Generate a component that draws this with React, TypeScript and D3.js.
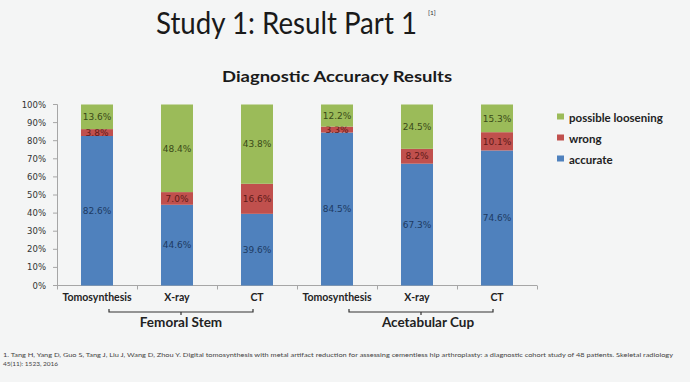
import React from "react";
import * as d3 from "d3";

const categories = ["Tomosynthesis", "X-ray", "CT", "Tomosynthesis", "X-ray", "CT"];
const groups = ["Femoral Stem", "Acetabular Cup"];
const seriesNames = ["accurate", "wrong", "possible loosening"];
const accurate = [82.6, 44.6, 39.6, 84.5, 67.3, 74.6];
const wrong = [3.8, 7.0, 16.6, 3.3, 8.2, 10.1];
const loosening = [13.6, 48.4, 43.8, 12.2, 24.5, 15.3];
const yTicks = [0, 10, 20, 30, 40, 50, 60, 70, 80, 90, 100];

const W = 690;
const H = 382;
const colors = ["#4F81BD", "#C0504D", "#9BBB59"];
const labelColors = ["#1d3a62", "#5e1a18", "#3a4a18"];

export default function App() {
  const x = d3.scaleBand<number>().domain(d3.range(categories.length)).range([57, 537]).paddingInner(0).paddingOuter(0);
  const y = d3.scaleLinear().domain([0, 100]).range([285.5, 104.5]);
  const rows = categories.map((c, i) => ({ i, accurate: accurate[i], wrong: wrong[i], loosening: loosening[i] }));
  const stack = d3.stack<any>().keys(["accurate", "wrong", "loosening"])(rows);
  const bw = x.bandwidth() * 0.4;
  const font = "Lato, 'Open Sans', sans-serif";
  const dfont = "'DejaVu Sans', Verdana, sans-serif";

  const groupSpans = [
    { name: groups[0], start: 0, end: 2 },
    { name: groups[1], start: 3, end: 5 },
  ];

  return (
    <svg width={W} height={H} style={{ position: "absolute", left: 0, top: 0 }} xmlns="http://www.w3.org/2000/svg">
      <rect x={0} y={0} width={W} height={H} fill="#f4f5f5" />
      <g transform="translate(156,34) scale(0.9,1)">
        <text x={0} y={0} fontFamily={font} fontSize={30} fill="#1a1a1a" textLength={290} lengthAdjust="spacingAndGlyphs">
          Study 1: Result Part 1
        </text>
      </g>
      <text x={428} y={15} fontFamily={font} fontSize={6.5} fill="#333">[1]</text>
      <text x={222} y={82} fontFamily={font} fontSize={14.5} fontWeight="bold" fill="#1a1a1a" textLength={230} lengthAdjust="spacingAndGlyphs">
        Diagnostic Accuracy Results
      </text>

      {/* axes */}
      <line x1={57.5} x2={57.5} y1={y(100)} y2={y(0)} stroke="#a6a6a6" />
      {yTicks.map((t) => (
        <g key={t}>
          <line x1={53} x2={57.5} y1={y(t)} y2={y(t)} stroke="#a6a6a6" />
          <text x={46} y={y(t) + 3} textAnchor="end" fontFamily={dfont} fontSize={8.5} fill="#333">{t + "%"}</text>
        </g>
      ))}
      <line x1={57} x2={537} y1={y(0)} y2={y(0)} stroke="#a6a6a6" />
      {d3.range(categories.length + 1).map((k) => {
        const xx = k < categories.length ? x(k)! : 537;
        return <line key={k} x1={xx + 0.5} x2={xx + 0.5} y1={y(0)} y2={y(0) + 4} stroke="#a6a6a6" />;
      })}

      {/* bars */}
      {stack.map((s, si) => (
        <g key={si}>
          {s.map((d, i) => {
            const cx = x(i)! + x.bandwidth() / 2;
            const v = d[1] - d[0];
            return (
              <g key={i}>
                <rect x={cx - bw / 2} y={y(d[1])} width={bw} height={y(d[0]) - y(d[1])} fill={colors[si]} />
                <text x={cx} y={(y(d[0]) + y(d[1])) / 2 + 3.2} textAnchor="middle" fontFamily={dfont} fontSize={9} fill={labelColors[si]}>
                  {v.toFixed(1) + "%"}
                </text>
              </g>
            );
          })}
        </g>
      ))}

      {/* category labels */}
      {categories.map((c, i) => (
        <text key={i} x={x(i)! + x.bandwidth() / 2} y={301} textAnchor="middle" fontFamily={font} fontSize={10.5} fontWeight="bold" fill="#222">
          {c}
        </text>
      ))}

      {/* group braces */}
      {groupSpans.map((g, gi) => {
        const x1 = x(g.start)! + x.bandwidth() / 2 + 12;
        const x2 = x(g.end)! + x.bandwidth() / 2 - 4;
        const xm = (x1 + x2) / 2;
        return (
          <g key={gi}>
            <path d={`M${x1},309 L${x1},312 L${x2},312 L${x2},309 M${xm},312 L${xm},315`} fill="none" stroke="#333" strokeWidth={1.2} />
            <text x={xm + (gi === 1 ? 7 : 0)} y={327} textAnchor="middle" fontFamily={font} fontSize={13.5} fontWeight="bold" fill="#222">
              {g.name}
            </text>
          </g>
        );
      })}

      {/* legend */}
      {[2, 1, 0].map((si, k) => (
        <g key={si}>
          <rect x={557} y={113.5 + k * 21} width={7} height={6} fill={colors[si]} />
          <text x={569} y={121.5 + k * 21} fontFamily={font} fontSize={11.5} fontWeight="bold" fill="#222">
            {seriesNames[si]}
          </text>
        </g>
      ))}

      {/* footnote */}
      <text x={3} y={357} fontFamily={font} fontSize={6.5} fill="#444" textLength={670} lengthAdjust="spacingAndGlyphs">
        1. Tang H, Yang D, Guo S, Tang J, Liu J, Wang D, Zhou Y. Digital tomosynthesis with metal artifact reduction for assessing cementless hip arthroplasty: a diagnostic cohort study of 48 patients. Skeletal radiology
      </text>
      <text x={3} y={366} fontFamily={font} fontSize={6.5} fill="#444">45(11): 1523, 2016</text>
    </svg>
  );
}
